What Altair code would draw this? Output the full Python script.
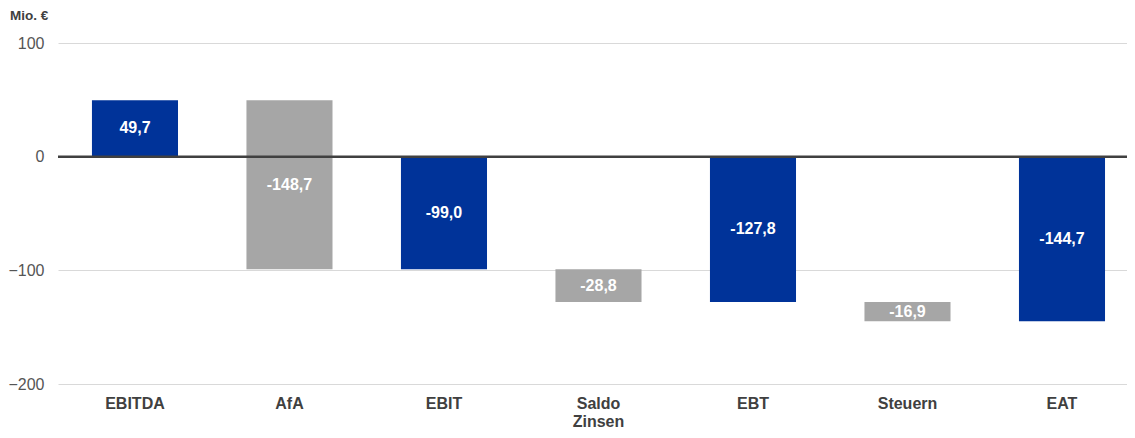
import altair as alt
import pandas as pd

categories = ["EBITDA", "AfA", "EBIT", "Saldo Zinsen", "EBT", "Steuern", "EAT"]
values = [49.7, -148.7, -99.0, -28.8, -127.8, -16.9, -144.7]
kinds = ["total", "delta", "total", "delta", "total", "delta", "total"]
labels = ["49,7", "-148,7", "-99,0", "-28,8", "-127,8", "-16,9", "-144,7"]

rows = []
running = 0.0
for c, v, k, l in zip(categories, values, kinds, labels):
    if k == "total":
        start, end = 0.0, v
        running = v
    else:
        start, end = running, running + v
        running = end
    rows.append({"cat": c, "start": start, "end": end, "mid": (start + end) / 2,
                 "kind": k, "label": l})
df = pd.DataFrame(rows)

x_enc = alt.X("cat:N", sort=categories, title=None,
              scale=alt.Scale(paddingInner=0.443, paddingOuter=0.181, align=0.607),
              axis=alt.Axis(labelAngle=0, labelFont="Liberation Sans", labelFontSize=16,
                            labelFontWeight="bold", labelColor="#404040", ticks=False,
                            domain=False, labelPadding=11,
                            labelExpr="split(datum.label, ' ')", labelLineHeight=18))

y_scale = alt.Scale(domain=[-200, 100], nice=False)

bars = alt.Chart(df).mark_bar().encode(
    x=x_enc,
    y=alt.Y("start:Q", scale=y_scale, title=None,
            axis=alt.Axis(values=[-200, -100, 0, 100], labelFont="Liberation Sans",
                          labelFontSize=16, labelColor="#555555", ticks=False, domain=False,
                          labelPadding=14, gridColor="#D9D9D9", gridWidth=1.2)),
    y2="end:Q",
    color=alt.Color("kind:N", scale=alt.Scale(domain=["total", "delta"],
                                              range=["#003399", "#A6A6A6"]), legend=None),
)

zero = alt.Chart(pd.DataFrame({"y": [0]})).mark_rule(color="#404040", strokeWidth=2.5).encode(
    y=alt.Y("y:Q", scale=y_scale)
)

text = alt.Chart(df).mark_text(color="white", font="Liberation Sans", fontSize=16,
                               fontWeight="bold").encode(
    x=alt.X("cat:N", sort=categories),
    y=alt.Y("mid:Q", scale=y_scale),
    text="label:N",
)

unit = alt.Chart(pd.DataFrame({"t": ["Mio. €"]})).mark_text(
    font="Liberation Sans", fontSize=13.5, fontWeight="bold", color="#404040", align="left",
    baseline="middle").encode(x=alt.value(-48), y=alt.value(-27), text="t:N")

chart = alt.layer(bars, zero, text, unit).properties(
    width=1069, height=341,
    autosize=alt.AutoSizeParams(type="none"),
    padding={"left": 50, "top": 35, "right": 0, "bottom": 46},
).configure_view(stroke=None)

chart.save("out.html", embed_options={"renderer": "svg", "actions": False})
